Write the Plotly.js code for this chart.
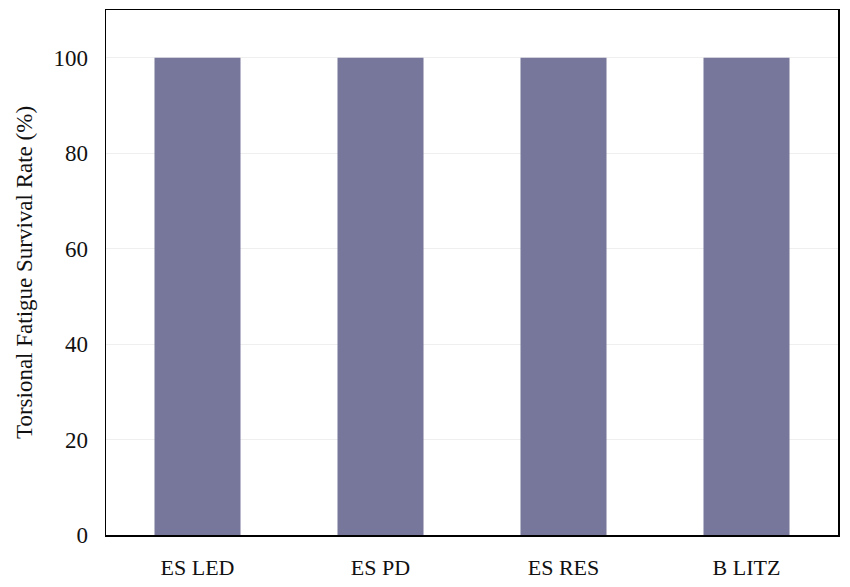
<!DOCTYPE html>
<html>
<head>
<meta charset="utf-8">
<script src="https://cdn.plot.ly/plotly-3.0.1.min.js"></script>
<style>
  html, body { margin: 0; padding: 0; background: #fff; }
  #chart { width: 850px; height: 587px; }
</style>
</head>
<body>
<div id="chart"></div>
<script>
// torsional fatigue survival per group
var groups = ['ES LED', 'ES PD', 'ES RES', 'B LITZ'];
var survival = [100, 100, 100, 100];
var y_ticks = [0, 20, 40, 60, 80, 100];

var font_family = 'Liberation Serif, DejaVu Serif, serif';

var data = [{
  x: groups,
  y: survival,
  type: 'bar',
  marker: { color: '#77769b' },
  hoverinfo: 'x+y'
}];

var layout = {
  width: 850,
  height: 587,
  margin: { l: 106, r: 12, t: 10, b: 52 },
  paper_bgcolor: '#fff',
  plot_bgcolor: '#fff',
  bargap: 0.53,
  showlegend: false,
  font: { family: font_family, size: 22, color: '#111' },
  xaxis: {
    showgrid: false,
    zeroline: false,
    showline: true,
    linecolor: '#000',
    linewidth: 1.5,
    mirror: true,
    ticks: '',
    tickfont: { family: font_family, size: 22, color: '#111' },
    ticklabelstandoff: 12,
    fixedrange: true
  },
  yaxis: {
    title: { text: 'Torsional Fatigue Survival Rate (%)', font: { family: font_family, size: 23, color: '#111' }, standoff: 14 },
    range: [0, 110],
    tickvals: y_ticks,
    showgrid: true,
    gridcolor: '#efefef',
    gridwidth: 1,
    zeroline: false,
    showline: true,
    linecolor: '#000',
    linewidth: 1.5,
    mirror: true,
    ticks: '',
    ticklabelstandoff: 12,
    tickfont: { family: font_family, size: 23, color: '#111' },
    fixedrange: true
  }
};

Plotly.newPlot('chart', data, layout, { displayModeBar: false, staticPlot: true });
</script>
</body>
</html>
